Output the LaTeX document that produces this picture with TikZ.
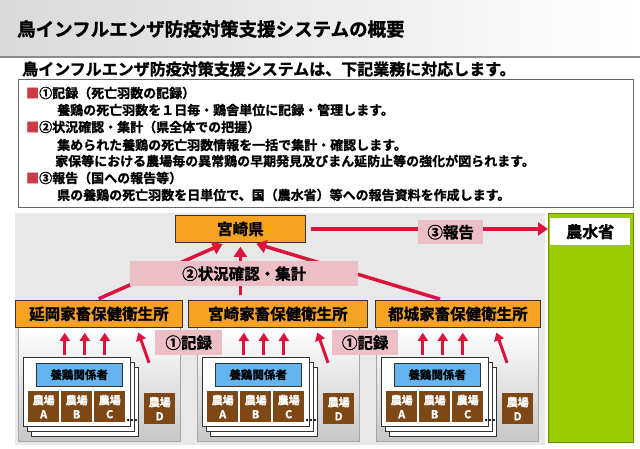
\documentclass[tikz,border=0pt]{standalone}
\usepackage{fontspec}
\setmainfont{Noto Sans CJK JP Bold}[FakeBold=1.2]
\usepackage{tikz}
\usetikzlibrary{positioning,fit,calc,arrows.meta}
\definecolor{kenorange}{RGB}{247,162,35}
\definecolor{lblpink}{RGB}{236,190,198}
\definecolor{arrred}{RGB}{220,20,60}
\definecolor{farmbrown}{RGB}{125,72,22}
\definecolor{kanblue}{RGB}{100,180,240}
\definecolor{minigreen}{RGB}{153,204,0}
\definecolor{bgray}{RGB}{232,232,232}
\definecolor{bulletred}{RGB}{205,60,70}
\newcommand\jfs[1]{\fontsize{#1}{#1}\selectfont}
\tikzset{orgbox/.style={draw=black!80, fill=kenorange, inner sep=0pt, line width=0.8pt, minimum height=27pt, anchor=north west, font=\jfs{15.5}}}
\tikzset{lblbox/.style={fill=lblpink, inner sep=0pt, minimum height=25pt, anchor=north west, font=\jfs{15.5}}}
\tikzset{farm/.style={fill=farmbrown, text=white, inner sep=0pt, minimum width=31pt, minimum height=31pt, anchor=north west, align=center, font=\fontsize{11}{14}\selectfont}}
\tikzset{sheet/.style={draw=black!80, fill=white, line width=0.6pt}}
\tikzset{kan/.style={draw=black!80, fill=kanblue, inner sep=0pt, minimum width=86pt, minimum height=23pt, anchor=north west, font=\jfs{11.5}}}
\tikzset{redarr/.style={draw=arrred, line width=3pt, -{Triangle[width=10pt,length=8pt]}}}
\tikzset{bigarr/.style={draw=arrred, line width=3.5pt, -{Triangle[width=13pt,length=10pt]}}}
\tikzset{txtline/.style={anchor=west, inner sep=0pt, font=\jfs{13}}}

\begin{document}
\begin{tikzpicture}[x=1pt, y=-1pt]
	\useasboundingbox (0,0) rectangle (640,448);
	% header band
	\shade[left color=black!15, right color=white] (0,0) rectangle (640,57);
	\draw[black!45, line width=1.2pt] (0,57) -- (640,57);
	\node[anchor=west, inner sep=0pt, font=\jfs{18.5}] (title) at (17,29) {鳥インフルエンザ防疫対策支援システムの概要};
	\node[anchor=west, inner sep=0pt, font=\jfs{16}] (sub) at (22,69) {鳥インフルエンザ防疫対策支援システムは、下記業務に対応します。};

	\node[draw=black!60, line width=0.8pt, minimum width=615pt, minimum height=128pt, anchor=north west, inner sep=0pt] (info) at (18,79) {};
	\node[txtline] (l1) at (26,93) {\textcolor{bulletred}{■}①記録（死亡羽数の記録）};
	\node[txtline] (l2) at (57,110) {養鶏の死亡羽数を１日毎・鶏舎単位に記録・管理します。};
	\node[txtline] (l3) at (26,127) {\textcolor{bulletred}{■}②状況確認・集計（県全体での把握）};
	\node[txtline] (l4) at (57,145) {集められた養鶏の死亡羽数情報を一括で集計・確認します。};
	\node[txtline] (l5) at (55,161) {家保等における農場毎の異常鶏の早期発見及びまん延防止等の強化が図られます。};
	\node[txtline] (l6) at (26,178) {\textcolor{bulletred}{■}③報告（国への報告等）};
	\node[txtline] (l7) at (57,195) {県の養鶏の死亡羽数を日単位で、国（農水省）等への報告資料を作成します。};

	% diagram
	\fill[bgray] (15,213) rectangle (545,445);
	\draw[fill=minigreen, draw=minigreen!70!black] (548,213) rectangle (633,442);
	\node[fill=white, minimum width=80pt, minimum height=27pt, anchor=north west, inner sep=0pt, font=\jfs{16}] (nosui) at (550,218) {農水省};
	\node[orgbox, minimum width=130pt] (ken) at (175,215) {宮崎県};

	\foreach \ox/\n in {0/1,179/2,358/3}{
		\shade[top color=white, bottom color=black!22, draw=black!35] (\ox+18,327) rectangle (\ox+180,441);
		\draw[sheet] (\ox+31,367) rectangle (\ox+138,436);
		\draw[sheet] (\ox+27,362) rectangle (\ox+134,431);
		\node[sheet, minimum width=107pt, minimum height=69pt, anchor=north west, inner sep=0pt] (sh\n) at (\ox+23,357) {};
		\node[kan] (kan\n) at (\ox+36,363) {養鶏関係者};
		\node[farm] (fa\n) at (\ox+28,391) {農場\\A};
		\node[farm] (fb\n) at (\ox+61,391) {農場\\B};
		\node[farm] (fc\n) at (\ox+94,391) {農場\\C};
		\node[anchor=base west, inner sep=0pt, font=\jfs{12}] (dots\n) at (\ox+126,421) {...};
		\node[farm] (fd\n) at (\ox+144,393) {農場\\D};
	}

	\node[orgbox, minimum width=167pt] (of1) at (15,300) {延岡家畜保健衛生所};
	\node[orgbox, minimum width=179pt] (of2) at (188,300) {宮崎家畜保健衛生所};
	\node[orgbox, minimum width=165pt] (of3) at (375,300) {都城家畜保健衛生所};

	\foreach \n in {1,2,3}{
		\foreach \dx in {-12,8,28}
			\draw[redarr, shorten <=2pt, shorten >=5pt] ([xshift=\dx pt]sh\n.north) -- ([xshift=\dx pt]sh\n.north |- of\n.south);
		\draw[redarr, shorten <=32pt, shorten >=5pt] (fd\n.north) -- ([xshift=-23pt]fd\n.north |- of\n.south);
	}

	\draw[bigarr, shorten <=3pt, shorten >=3pt] ([xshift=-3pt]of1.north) -- ([xshift=-15pt]ken.south);
	\draw[bigarr, shorten <=5pt, shorten >=4pt] (of2.north -| ken.south) -- (ken.south);
	\draw[bigarr, shorten <=3pt, shorten >=3pt] ([xshift=-15pt]of3.north) -- ([xshift=13pt]ken.south);
	\draw[bigarr, shorten <=5pt, shorten >=2pt] (ken.east) -- (ken.east -| nosui.west);

	\node[lblbox, minimum width=65pt, minimum height=24pt] (lbl3) at (418,220) {③報告};
	\node[lblbox, minimum width=228pt] (lbl2) at (130,261) {②状況確認・集計};
	\node[lblbox, minimum width=67pt] (lbl1a) at (155,330) {①記録};
	\node[lblbox, minimum width=66pt] (lbl1b) at (332,330) {①記録};
\end{tikzpicture}
\end{document}
